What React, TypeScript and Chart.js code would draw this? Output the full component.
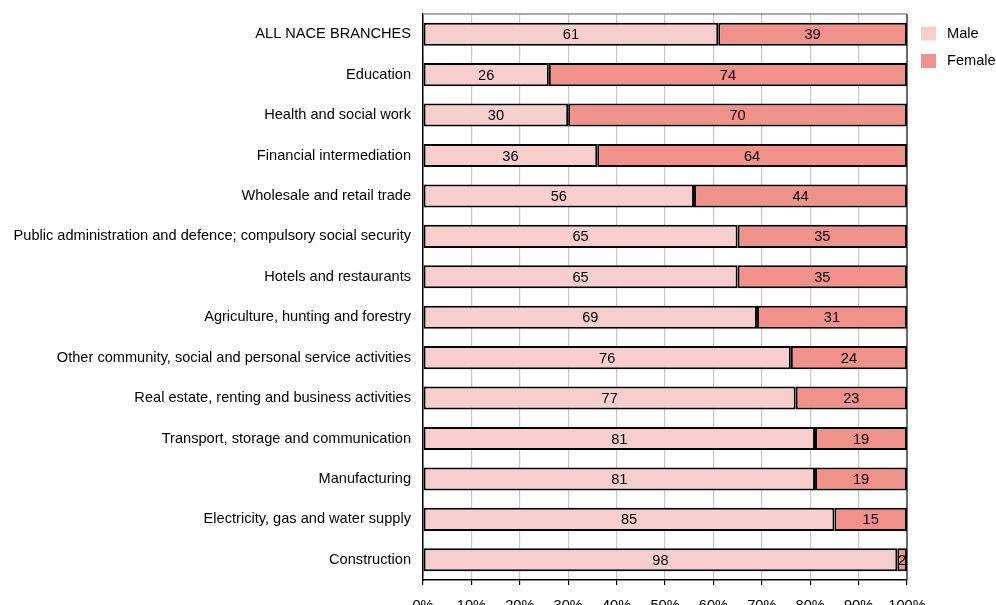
import React, { useEffect, useRef } from "react";
import { Chart, registerables } from "chart.js";

Chart.register(...registerables);

const categories = [
  "ALL NACE BRANCHES",
  "Education",
  "Health and social work",
  "Financial intermediation",
  "Wholesale and retail trade",
  "Public administration and defence; compulsory social security",
  "Hotels and restaurants",
  "Agriculture, hunting and forestry",
  "Other community, social and personal service activities",
  "Real estate, renting and business activities",
  "Transport, storage and communication",
  "Manufacturing",
  "Electricity, gas and water supply",
  "Construction",
];

const maleShare = [61, 26, 30, 36, 56, 65, 65, 69, 76, 77, 81, 81, 85, 98];
const femaleShare = [39, 74, 70, 64, 44, 35, 35, 31, 24, 23, 19, 19, 15, 2];

const xTicks = [0, 10, 20, 30, 40, 50, 60, 70, 80, 90, 100];

const MALE_COLOR = "#f7cecb";
const FEMALE_COLOR = "#f0918a";
const FONT = "'Liberation Sans', Arial, sans-serif";
const FONT_SIZE = 14.6;

const W = 996;
const H = 640;

// Frame lines on the top and right edges of the plot area
const framePlugin = {
  id: "frame",
  beforeDatasetsDraw(chart: any) {
    const { ctx, chartArea } = chart;
    ctx.save();
    ctx.lineWidth = 1.5;
    ctx.strokeStyle = "#8c8c8c";
    ctx.beginPath();
    ctx.moveTo(chartArea.left, chartArea.top);
    ctx.lineTo(chartArea.right, chartArea.top);
    ctx.stroke();
    ctx.strokeStyle = "#444";
    ctx.beginPath();
    ctx.moveTo(chartArea.right, chartArea.top);
    ctx.lineTo(chartArea.right, chartArea.bottom);
    ctx.stroke();
    ctx.restore();
  },
};

// Value labels centred inside each bar segment
const valueLabelPlugin = {
  id: "valueLabels",
  afterDatasetsDraw(chart: any) {
    const { ctx } = chart;
    ctx.save();
    ctx.font = `${FONT_SIZE}px ${FONT}`;
    ctx.fillStyle = "#000";
    ctx.textAlign = "center";
    ctx.textBaseline = "middle";
    chart.data.datasets.forEach((ds: any, di: number) => {
      const meta = chart.getDatasetMeta(di);
      meta.data.forEach((bar: any, i: number) => {
        const v = ds.data[i];
        const cx = (bar.x + bar.base) / 2;
        ctx.fillText(String(v), cx, bar.y + 1);
      });
    });
    ctx.restore();
  },
};

// Legend drawn to the right of the plot from the dataset labels and colours
const sideLegendPlugin = {
  id: "sideLegend",
  afterDraw(chart: any) {
    const { ctx, chartArea } = chart;
    ctx.save();
    ctx.font = `${FONT_SIZE}px ${FONT}`;
    ctx.textAlign = "left";
    ctx.textBaseline = "middle";
    chart.data.datasets.forEach((ds: any, i: number) => {
      const boxX = chartArea.right + 14;
      const cy = 33.5 + i * 27.5;
      ctx.fillStyle = ds.backgroundColor;
      ctx.fillRect(boxX, cy - 7, 15, 14);
      ctx.fillStyle = "#000";
      ctx.fillText(ds.label, boxX + 26, cy);
    });
    ctx.restore();
  },
};

export default function App() {
  const canvasRef = useRef<HTMLCanvasElement | null>(null);

  useEffect(() => {
    const canvas = canvasRef.current;
    if (!canvas) return;
    const chart = new Chart(canvas, {
      type: "bar",
      data: {
        labels: categories,
        datasets: [
          {
            label: "Male",
            data: maleShare,
            backgroundColor: MALE_COLOR,
            borderColor: "#000",
            borderWidth: 2,
            borderSkipped: false,
            barPercentage: 0.57,
            categoryPercentage: 1,
          },
          {
            label: "Female",
            data: femaleShare,
            backgroundColor: FEMALE_COLOR,
            borderColor: "#000",
            borderWidth: 2,
            borderSkipped: false,
            barPercentage: 0.57,
            categoryPercentage: 1,
          },
        ],
      },
      options: {
        indexAxis: "y",
        responsive: false,
        animation: false,
        devicePixelRatio: 1,
        layout: { padding: { top: 14, right: 89, left: 0, bottom: 0 } },
        plugins: {
          legend: { display: false },
          title: { display: false },
          tooltip: { enabled: false },
        },
        scales: {
          x: {
            stacked: true,
            min: 0,
            max: 100,
            afterFit(scale: any) {
              scale.height = H - 580;
              scale.paddingLeft = 0;
              scale.paddingRight = 0;
            },
            afterBuildTicks(scale: any) {
              scale.ticks = xTicks.map((v) => ({ value: v }));
            },
            grid: {
              color: "#c4c8cd",
              lineWidth: 1.2,
              tickColor: "#000",
              tickLength: 5,
            },
            border: { color: "#000", width: 1.5 },
            ticks: {
              padding: 12,
              color: "#000",
              font: { family: FONT, size: FONT_SIZE },
              callback: (v: any) => `${v}%`,
            },
          },
          y: {
            stacked: true,
            afterFit(scale: any) {
              scale.width = 423;
              scale.paddingTop = 0;
              scale.paddingBottom = 0;
            },
            grid: { display: false, drawTicks: false },
            border: { color: "#000", width: 1.5 },
            ticks: {
              padding: 12,
              color: "#000",
              font: { family: FONT, size: FONT_SIZE },
            },
          },
        },
      },
      plugins: [framePlugin, valueLabelPlugin, sideLegendPlugin],
    });
    return () => chart.destroy();
  }, []);

  return (
    <div
      style={{
        position: "fixed",
        left: 0,
        top: 0,
        width: W,
        height: 605,
        overflow: "hidden",
        background: "#fff",
      }}
    >
      <canvas ref={canvasRef} width={W} height={H} style={{ width: W, height: H, display: "block" }} />
    </div>
  );
}
